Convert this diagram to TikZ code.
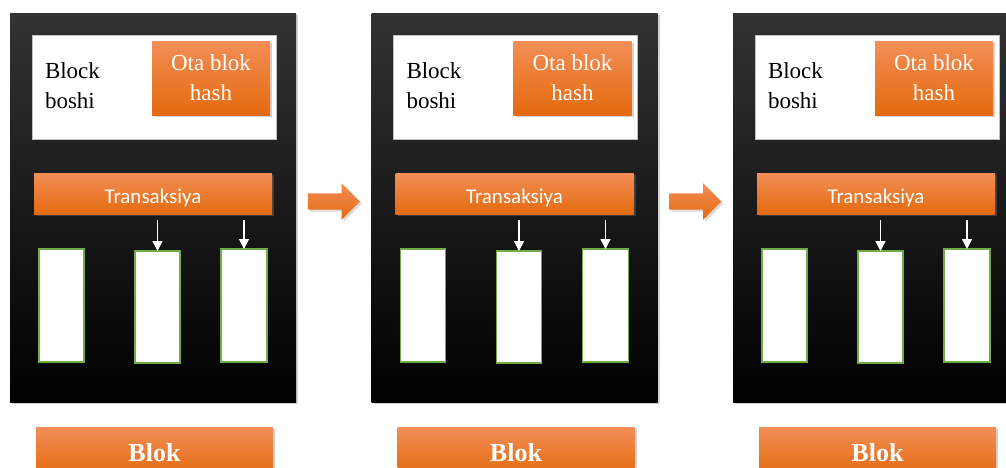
\documentclass[tikz,border=0pt]{standalone}
\usepackage{fontspec}
\setmainfont{Liberation Serif}
\newfontfamily\cfont{Carlito}
\newfontfamily\tfont{Liberation Serif}
\usetikzlibrary{shadows,shapes.arrows,arrows.meta,calc}
\definecolor{orL}{RGB}{242,142,86}
\definecolor{orD}{RGB}{228,106,14}
\definecolor{grn}{RGB}{112,173,71}
\begin{document}
\begin{tikzpicture}[x=1pt,y=-1pt,
  box/.style={rectangle, inner sep=0pt, outer sep=0pt, anchor=north west},
  blockbox/.style={box, top color=black!80, middle color=black, bottom color=black,
     drop shadow={shadow xshift=2pt, shadow yshift=-2pt, opacity=0.35}},
  headbox/.style={box, fill=white, draw=black!25, line width=0.6pt},
  orbox/.style={box, top color=orL, bottom color=orD, text=white,
     drop shadow={shadow xshift=2pt, shadow yshift=-2pt, opacity=0.35}},
  txbox/.style={box, fill=white, draw=grn, line width=1.2pt},
  warrow/.style={draw=white, line width=1.4pt, -{Triangle[width=10pt,length=10pt]}},
  blockarrow/.style={single arrow, single arrow head extend=10pt, inner sep=8pt,
     minimum height=52pt, top color=orL, bottom color=orD, shading angle=0,
     drop shadow={shadow xshift=2pt, shadow yshift=-2pt, opacity=0.3}},
  txtserif/.style={font=\tfont\fontsize{23}{30}\selectfont},
]
\useasboundingbox (0,0) rectangle (1006,467);
\clip (0,0) rectangle (1006,467);
\foreach \i in {0,1,2}{
  \begin{scope}[xshift=\i*361.5pt]
    \node[blockbox, minimum width=286pt, minimum height=389pt] (blk\i) at (10,13) {};
    \node[headbox, minimum width=244pt, minimum height=104pt] (hd\i) at (32,35) {};
    \node[box, txtserif, align=left] (bb\i) at (45,63) {Block\\boshi};
    \node[orbox, txtserif, align=center, minimum width=118pt, minimum height=74pt] (ota\i) at (152,41) {Ota blok\\hash};
    \node[orbox, minimum width=238pt, minimum height=41pt, font=\cfont\fontsize{21}{24}\selectfont,
          text height=19pt, text depth=0pt] (tr\i) at (34,173) {Transaksiya};
    \node[txbox, minimum width=45pt, minimum height=113pt] (ra\i) at (39,249) {};
    \node[txbox, minimum width=45pt, minimum height=112pt] (rb\i) at (135,251) {};
    \node[txbox, minimum width=46pt, minimum height=113pt] (rc\i) at (221,249) {};
    \draw[warrow] ($(tr\i.south -| rb\i.north)+(0,6)$) -- (rb\i.north);
    \draw[warrow] ($(tr\i.south -| rc\i.north)+(0,6)$) -- (rc\i.north);
    \node[orbox, minimum width=237pt, minimum height=50pt, font=\tfont\fontsize{26}{30}\selectfont\bfseries,
          text height=18pt, text depth=0pt] (blok\i) at (36,427) {Blok};
  \end{scope}
}
\node[blockarrow, yshift=6pt, xshift=-4pt] (arA) at ($(blk0.east)!0.5!(blk1.west)$) {};
\node[blockarrow, yshift=6pt, xshift=-4pt] (arB) at ($(blk1.east)!0.5!(blk2.west)$) {};
\end{tikzpicture}
\end{document}
